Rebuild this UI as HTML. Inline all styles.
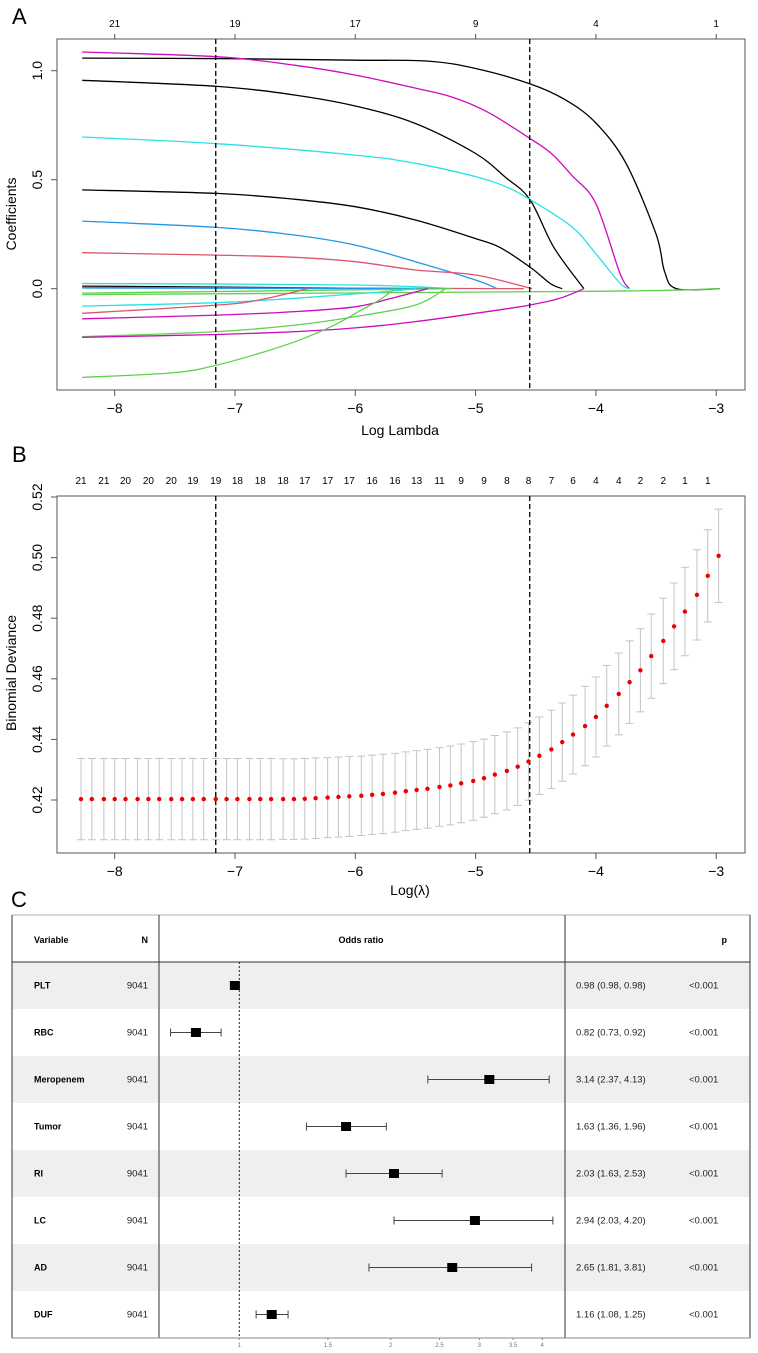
<!DOCTYPE html>
<html><head><meta charset="utf-8"><style>
html,body{margin:0;padding:0;background:#fff;}
svg{display:block;font-family:"Liberation Sans",Arial,sans-serif;}
</style></head><body>
<svg id="fig" width="758" height="1353" viewBox="0 0 758 1353" xmlns="http://www.w3.org/2000/svg">
<g id="pA"></g>
<g id="pB"></g>
<g id="pC"></g>
</svg>
<script>
// ===== Panel A data =====
const aTopLambda = [-8,-7,-6,-5,-4,-3];
const aTopCounts = ["21","19","17","9","4","1"];
const aXTicks = [-8,-7,-6,-5,-4,-3];
const aYTicks = [0,0.5,1.0];
const aYTickLabels = ["0.0","0.5","1.0"];
const cvLines = [-7.16,-4.55];
const pathColors = ["#000000","#CD0BBC","#000000","#28E2E5","#000000","#2297E6","#DF536B","#28E2E5","#000000","#DF536B","#2297E6","#61D04F","#61D04F","#28E2E5","#DF536B","#CD0BBC","#61D04F","#CD0BBC","#61D04F"];
const pathLambda = [
 [-8.27,-7,-6,-5.4,-5,-4.55,-4.25,-4,-3.75,-3.5,-3.43,-3.33,-2.97],
 [-8.27,-7.15,-6.5,-6,-5.5,-5.2,-4.9,-4.55,-4.37,-4.2,-4,-3.8,-3.72],
 [-8.27,-7.15,-6.5,-6,-5.5,-5,-4.75,-4.55,-4.35,-4.1],
 [-8.27,-7.15,-6,-5.5,-5,-4.75,-4.55,-4.2,-4,-3.8,-3.72],
 [-8.27,-7.15,-6.5,-6,-5.5,-5,-4.8,-4.55,-4.38,-4.28],
 [-8.27,-7.15,-6.5,-6,-5.5,-5,-4.82],
 [-8.27,-7.15,-6.5,-6,-5.5,-5,-4.53],
 [-8.27,-6,-5.2],
 [-8.27,-5.5],
 [-8.27,-4.6],
 [-8.27,-5.3],
 [-8.27,-4,-2.97],
 [-8.27,-5.2],
 [-8.27,-7.15,-6.5,-6,-5.6,-5.5],
 [-8.27,-7.15,-6.8,-6.4],
 [-8.27,-7.15,-6.5,-6,-5.7,-5.4],
 [-8.27,-7.15,-6.5,-6,-5.5,-5.25],
 [-8.27,-7.15,-6.5,-6,-5.5,-5,-4.55,-4.3,-4.1],
 [-8.27,-7.5,-7.15,-6.8,-6.5,-6.2,-5.95,-5.8,-5.67]
];
const pathCoef = [
 [1.058,1.055,1.048,1.044,1.01,0.94,0.865,0.76,0.575,0.25,0.08,0,0],
 [1.086,1.064,1.025,0.98,0.92,0.88,0.81,0.69,0.62,0.52,0.39,0.07,0],
 [0.956,0.928,0.888,0.838,0.758,0.62,0.51,0.41,0.19,0],
 [0.696,0.665,0.613,0.575,0.514,0.468,0.41,0.284,0.16,0.025,0],
 [0.453,0.437,0.41,0.376,0.315,0.23,0.19,0.1,0.024,0],
 [0.31,0.281,0.246,0.2,0.124,0.04,0],
 [0.165,0.154,0.144,0.124,0.086,0.063,0],
 [0.024,0.017,0],
 [0.012,0],
 [0.006,0],
 [0.003,0],
 [-0.027,-0.012,0],
 [-0.02,0],
 [-0.08,-0.064,-0.044,-0.024,-0.006,0],
 [-0.113,-0.075,-0.052,0],
 [-0.138,-0.121,-0.105,-0.083,-0.044,0],
 [-0.22,-0.197,-0.167,-0.128,-0.075,0],
 [-0.223,-0.21,-0.197,-0.18,-0.151,-0.113,-0.075,-0.044,0],
 [-0.407,-0.385,-0.35,-0.297,-0.243,-0.174,-0.098,-0.052,0]
];
// ===== Panel B data =====
const bLambda = [-8.28,-8.19,-8.09,-8.00,-7.91,-7.81,-7.72,-7.63,-7.53,-7.44,-7.35,-7.26,-7.16,-7.07,-6.98,-6.88,-6.79,-6.70,-6.60,-6.51,-6.42,-6.33,-6.23,-6.14,-6.05,-5.95,-5.86,-5.77,-5.67,-5.58,-5.49,-5.40,-5.30,-5.21,-5.12,-5.02,-4.93,-4.84,-4.74,-4.65,-4.56,-4.47,-4.37,-4.28,-4.19,-4.09,-4.00,-3.91,-3.81,-3.72,-3.63,-3.54,-3.44,-3.35,-3.26,-3.16,-3.07,-2.98];
const bDeviance = [0.4203,0.4203,0.4203,0.4203,0.4203,0.4203,0.4203,0.4203,0.4203,0.4203,0.4203,0.4203,0.4203,0.4203,0.4203,0.4203,0.4203,0.4203,0.4203,0.4203,0.4204,0.4206,0.4208,0.4210,0.4212,0.4214,0.4217,0.4220,0.4224,0.4229,0.4233,0.4237,0.4243,0.4248,0.4255,0.4263,0.4272,0.4284,0.4296,0.4310,0.4327,0.4346,0.4367,0.4391,0.4416,0.4444,0.4474,0.4511,0.4550,0.4589,0.4628,0.4675,0.4725,0.4773,0.4822,0.4877,0.4940,0.5006];
const bSE = [0.0134,0.0134,0.0134,0.0134,0.0134,0.0134,0.0134,0.0134,0.0134,0.0134,0.0134,0.0134,0.0134,0.0134,0.0134,0.0134,0.0134,0.0134,0.0133,0.0133,0.0133,0.0133,0.0132,0.0132,0.0132,0.0131,0.0131,0.0131,0.0130,0.0130,0.0130,0.0130,0.0130,0.0130,0.0130,0.0130,0.0129,0.0129,0.0129,0.0128,0.0128,0.0128,0.0129,0.0129,0.0130,0.0131,0.0132,0.0133,0.0135,0.0136,0.0137,0.0139,0.0141,0.0143,0.0146,0.0149,0.0152,0.0154];
const bTopCounts = ["21","21","20","20","20","19","19","18","18","18","17","17","17","16","16","13","11","9","9","8","8","7","6","4","4","2","2","1","1"];
const bXTicks = [-8,-7,-6,-5,-4,-3];
const bYTicks = [0.42,0.44,0.46,0.48,0.50,0.52];
const bYTickLabels = ["0.42","0.44","0.46","0.48","0.50","0.52"];
// ===== Panel C data =====
const cVars = ["PLT","RBC","Meropenem","Tumor","RI","LC","AD","DUF"];
const cN = ["9041","9041","9041","9041","9041","9041","9041","9041"];
const cOR = [0.98,0.82,3.14,1.63,2.03,2.94,2.65,1.16];
const cLow = [0.98,0.73,2.37,1.36,1.63,2.03,1.81,1.08];
const cHigh = [0.98,0.92,4.13,1.96,2.53,4.20,3.81,1.25];
const cP = ["<0.001","<0.001","<0.001","<0.001","<0.001","<0.001","<0.001","<0.001"];
const cTicks = [1,1.5,2,2.5,3,3.5,4];
const cTickLabels = ["1","1.5","2","2.5","3","3.5","4"];

const NS="http://www.w3.org/2000/svg";
function mk(parent,tag,attrs,text){const e=document.createElementNS(NS,tag);for(const k in attrs)e.setAttribute(k,attrs[k]);if(text!==undefined)e.textContent=text;parent.appendChild(e);return e;}
function smooth(pts){
 if(pts.length<3) return pts.map((p,j)=>(j?'L':'M')+p[0].toFixed(1)+','+p[1].toFixed(1)).join(' ');
 let d='M'+pts[0][0].toFixed(1)+','+pts[0][1].toFixed(1);
 for(let i=0;i<pts.length-1;i++){
  const p0=pts[i-1]||pts[i],p1=pts[i],p2=pts[i+1],p3=pts[i+2]||p2;
  const c1x=p1[0]+(p2[0]-p0[0])/6,c1y=p1[1]+(p2[1]-p0[1])/6;
  const c2x=p2[0]-(p3[0]-p1[0])/6,c2y=p2[1]-(p3[1]-p1[1])/6;
  d+=` C${c1x.toFixed(1)},${c1y.toFixed(1)} ${c2x.toFixed(1)},${c2y.toFixed(1)} ${p2[0].toFixed(1)},${p2[1].toFixed(1)}`;
 }
 return d;
}

const lx = v => 114.7 + (v+8)*120.3;

// ---- Panel A ----
(function(){
 const g=document.getElementById('pA');
 const y = c => 288.7 - 218*c;
 let t=mk(g,'text',{x:12,y:24,'font-size':22},'A');
 
 
 let r=mk(g,'rect',{x:57,y:39,width:688,height:351,fill:'none',stroke:'#555','stroke-width':1});
 
 
 pathLambda.forEach((xs,i)=>{
  const pts=xs.map((v,j)=>[lx(v),y(pathCoef[i][j])]);
  const p=mk(g,'path',{d:smooth(pts),fill:'none',stroke:pathColors[i],'stroke-width':1.3,'stroke-linejoin':'round'});
  
  
 });
 cvLines.forEach((v,i)=>{
  const l=mk(g,'line',{x1:lx(v),x2:lx(v),y1:39,y2:390,stroke:'#000','stroke-width':1.3,'stroke-dasharray':'5,3'});
  
  
 });
 aXTicks.forEach(v=>{
  mk(g,'line',{x1:lx(v),x2:lx(v),y1:390,y2:396,stroke:'#555'});
  const tx=mk(g,'text',{x:lx(v),y:413,'font-size':14,'text-anchor':'middle'},'\u2212'+Math.abs(v));
  
  
 });
 aTopLambda.forEach((v,i)=>{
  mk(g,'line',{x1:lx(v),x2:lx(v),y1:39,y2:34,stroke:'#555'});
  const tx=mk(g,'text',{x:lx(v),y:27,'font-size':10,'text-anchor':'middle'},aTopCounts[i]);
  
  
 });
 aYTicks.forEach((v,i)=>{
  mk(g,'line',{x1:57,x2:51,y1:y(v),y2:y(v),stroke:'#555'});
  const tx=mk(g,'text',{x:0,y:0,'font-size':14,'text-anchor':'middle',transform:`translate(42,${y(v)}) rotate(-90)`},aYTickLabels[i]);
  
  
 });
 t=mk(g,'text',{x:400,y:435,'font-size':14,'text-anchor':'middle'},'Log Lambda');
 
 
 t=mk(g,'text',{x:0,y:0,'font-size':14,'text-anchor':'middle',transform:'translate(16,214) rotate(-90)'},'Coefficients');
 
 
})();

// ---- Panel B ----
(function(){
 const g=document.getElementById('pB');
 const y = v => 800 - (v-0.42)*3030;
 let t=mk(g,'text',{x:12,y:462,'font-size':22},'B');
 
 
 let r=mk(g,'rect',{x:57,y:496,width:688,height:357,fill:'none',stroke:'#555','stroke-width':1});
 
 
 bLambda.forEach((v,i)=>{
  const x=lx(v), hi=y(bDeviance[i]+bSE[i]), lo=y(bDeviance[i]-bSE[i]);
  const e=mk(g,'path',{d:`M${x},${hi} L${x},${lo} M${x-4},${hi} L${x+4},${hi} M${x-4},${lo} L${x+4},${lo}`,stroke:'#c4c4c4','stroke-width':1,fill:'none'});
  
  
 });
 cvLines.forEach((v,i)=>{
  const l=mk(g,'line',{x1:lx(v),x2:lx(v),y1:496,y2:853,stroke:'#000','stroke-width':1.3,'stroke-dasharray':'5,3'});
  
  
 });
 bLambda.forEach((v,i)=>{
  const c=mk(g,'circle',{cx:lx(v),cy:y(bDeviance[i]),r:2.2,fill:'#ee0000'});
  
  
 });
 bTopCounts.forEach((s,i)=>{
  const tx=mk(g,'text',{x:lx(bLambda[i*2]),y:484,'font-size':10,'text-anchor':'middle'},s);
  
  
 });
 bXTicks.forEach(v=>{
  mk(g,'line',{x1:lx(v),x2:lx(v),y1:853,y2:859,stroke:'#555'});
  const tx=mk(g,'text',{x:lx(v),y:876,'font-size':14,'text-anchor':'middle'},'\u2212'+Math.abs(v));
  
  
 });
 bYTicks.forEach((v,i)=>{
  mk(g,'line',{x1:57,x2:51,y1:y(v),y2:y(v),stroke:'#555'});
  const tx=mk(g,'text',{x:0,y:0,'font-size':14,'text-anchor':'middle',transform:`translate(42,${y(v)}) rotate(-90)`},bYTickLabels[i]);
  
  
 });
 t=mk(g,'text',{x:410,y:895,'font-size':14,'text-anchor':'middle'},'Log(\u03BB)');
 
 
 t=mk(g,'text',{x:0,y:0,'font-size':14,'text-anchor':'middle',transform:'translate(16,673) rotate(-90)'},'Binomial Deviance');
 
 
})();

// ---- Panel C ----
(function(){
 const g=document.getElementById('pC');
 const ox = v => 239.3 + 218.5*Math.log(v);
 const top=915, hb=962, rh=47, bottom=hb+rh*cVars.length;
 let t=mk(g,'text',{x:11,y:907,'font-size':22},'C');
 
 
 cVars.forEach((v,i)=>{
  if(i%2===0){
   const r=mk(g,'rect',{x:12,y:hb+i*rh,width:738,height:rh,fill:'#efefef'});
   
   
  }
 });
 mk(g,'line',{x1:12,x2:750,y1:top,y2:top,stroke:'#c8c8c8','stroke-width':1.5});
 mk(g,'line',{x1:12,x2:750,y1:hb,y2:hb,stroke:'#333','stroke-width':1});
 [12,159,565,750].forEach(x=>mk(g,'line',{x1:x,x2:x,y1:top,y2:bottom,stroke:'#333','stroke-width':1}));
 mk(g,'line',{x1:12,x2:750,y1:bottom,y2:bottom,stroke:'#888','stroke-width':1});
 const hf={'font-size':9,'font-weight':'bold'};
 [['Variable',34,'start'],['N',148,'end'],['Odds ratio',361,'middle'],['p',727,'end']].forEach(h=>{
  const tx=mk(g,'text',Object.assign({x:h[1],y:943,'text-anchor':h[2]},hf),h[0]);
  
  
 });
 mk(g,'line',{x1:ox(1),x2:ox(1),y1:hb,y2:bottom,stroke:'#222','stroke-width':1,'stroke-dasharray':'2,2'});
 cVars.forEach((v,i)=>{
  const cy=hb+i*rh+rh/2;
  let tx=mk(g,'text',{x:34,y:cy+3,'font-size':9,'font-weight':'bold'},v);
  
  
  tx=mk(g,'text',{x:148,y:cy+3,'font-size':9.5,'text-anchor':'end',fill:'#222'},cN[i]);
  
  
  tx=mk(g,'text',{x:576,y:cy+3,'font-size':9.5,fill:'#222'},cOR[i].toFixed(2)+' ('+cLow[i].toFixed(2)+', '+cHigh[i].toFixed(2)+')');
  
  
  tx=mk(g,'text',{x:689,y:cy+3,'font-size':9.5,fill:'#222'},cP[i]);
  
  
  const x1=ox(cLow[i]),x2=ox(cHigh[i]);
  if(x2-x1>1){
   const ci=mk(g,'path',{d:`M${x1},${cy} L${x2},${cy} M${x1},${cy-4} L${x1},${cy+4} M${x2},${cy-4} L${x2},${cy+4}`,stroke:'#444','stroke-width':1,fill:'none'});
   
   
  }
  const sq=mk(g,'rect',{x:ox(cOR[i])-5,y:cy-4.5,width:10,height:9,fill:'#000'});
  
  
 });
 cTicks.forEach((v,i)=>{
  mk(g,'line',{x1:ox(v),x2:ox(v),y1:bottom,y2:bottom+2,stroke:'#888'});
  const tx=mk(g,'text',{x:ox(v),y:bottom+9,'font-size':6,'text-anchor':'middle',fill:'#777'},cTickLabels[i]);
  
  
 });
})();
</script>
</body></html>
